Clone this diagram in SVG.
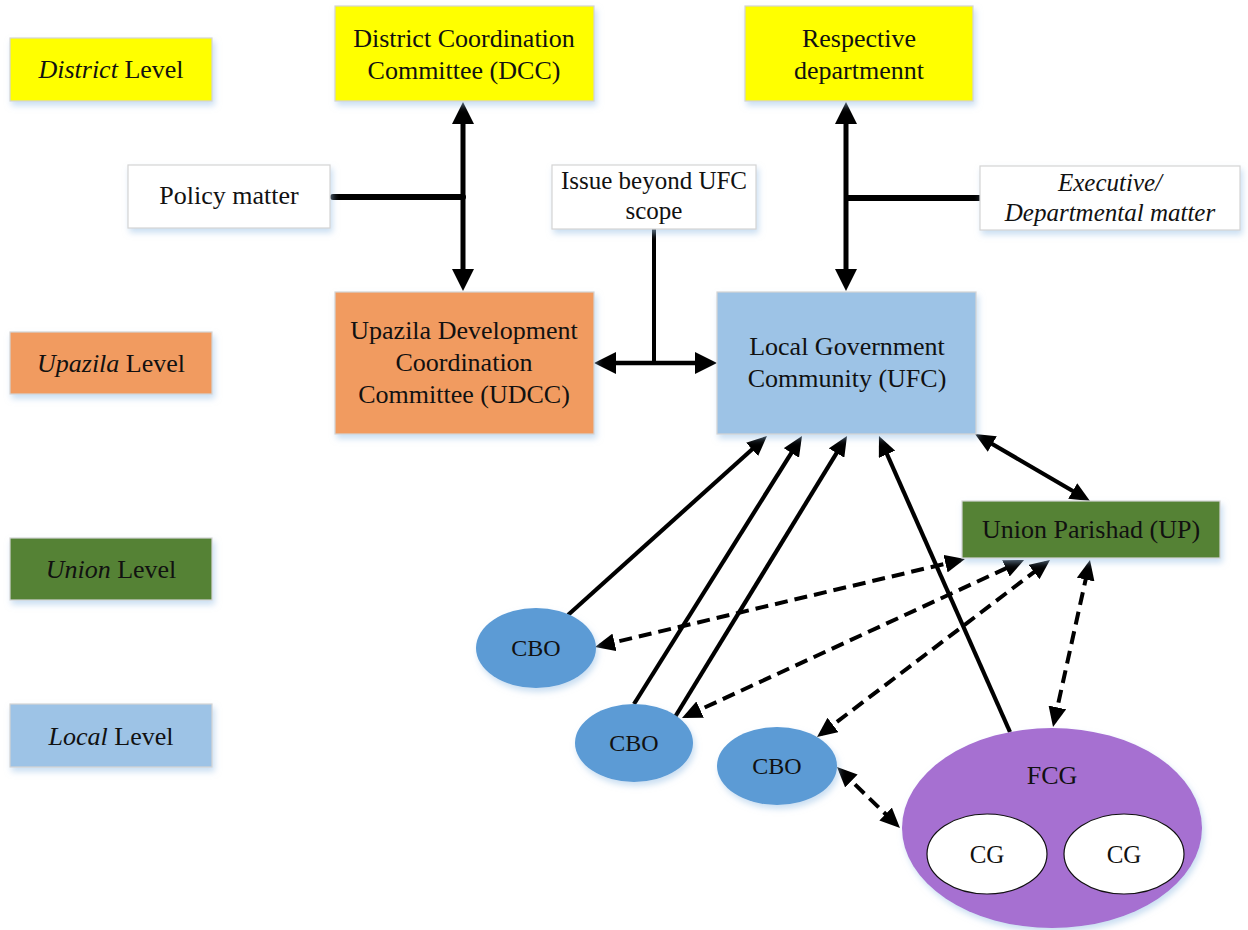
<svg xmlns="http://www.w3.org/2000/svg" width="1248" height="930" viewBox="0 0 1248 930">
<style>
  text { font-family: "Liberation Serif", "Times New Roman", serif; fill: #111; text-anchor: middle; }
  .t26 { font-size: 26px; }
  .t25 { font-size: 25px; }
  .t24 { font-size: 24px; }
  .it { font-style: italic; }
  .box { stroke: #d4d4d4; stroke-width: 1.2; filter: url(#sh); }
  .yellow { fill: #FFFF00; }
  .orange { fill: #F19B61; }
  .green { fill: #548235; }
  .lblue { fill: #9DC3E6; }
  .white { fill: #FFFFFF; }
  .ell { fill: #5B9BD5; filter: url(#sh); }
  .solid { stroke: #000; fill: none; }
  .dash { stroke: #000; fill: none; stroke-width: 4; stroke-dasharray: 13 7; }
</style>
<defs>
  <filter id="sh" x="-10%" y="-10%" width="125%" height="130%">
    <feDropShadow dx="2" dy="4" stdDeviation="3" flood-color="#9DC3E6" flood-opacity="0.55"/>
  </filter>
  <marker id="ab" viewBox="0 0 22 22" markerUnits="userSpaceOnUse" markerWidth="22" markerHeight="22" refX="16" refY="11" orient="auto-start-reverse">
    <path d="M0,0 L22,11 L0,22 Z" fill="#000"/>
  </marker>
  <marker id="as" viewBox="0 0 20 18" markerUnits="userSpaceOnUse" markerWidth="20" markerHeight="18" refX="14" refY="9" orient="auto-start-reverse">
    <path d="M0,0 L20,9 L0,18 Z" fill="#000"/>
  </marker>
  <marker id="ad" viewBox="0 0 20 18" markerUnits="userSpaceOnUse" markerWidth="20" markerHeight="18" refX="15" refY="9" orient="auto-start-reverse">
    <path d="M0,0 L20,9 L0,18 Z" fill="#000"/>
  </marker>
</defs>
<rect width="1248" height="930" fill="#FFFFFF"/>

<g id="connectors">
  <line class="solid" x1="463" y1="108" x2="463" y2="285" stroke-width="5" marker-start="url(#ab)" marker-end="url(#ab)"/>
  <line class="solid" x1="333" y1="197" x2="463" y2="197" stroke-width="6" stroke-linecap="round"/>
  <line class="solid" x1="846" y1="108" x2="846" y2="285" stroke-width="5" marker-start="url(#ab)" marker-end="url(#ab)"/>
  <line class="solid" x1="846" y1="198" x2="980" y2="198" stroke-width="6"/>
  <line class="solid" x1="654" y1="229" x2="654" y2="363" stroke-width="4"/>
  <line class="solid" x1="600" y1="363" x2="711" y2="363" stroke-width="4.5" marker-start="url(#ab)" marker-end="url(#ab)"/>
  <line class="solid" x1="568" y1="615" x2="762.5" y2="440" stroke-width="4.2" marker-end="url(#as)"/>
  <line class="solid" x1="634" y1="704" x2="798.8" y2="441.1" stroke-width="4.2" marker-end="url(#as)"/>
  <line class="solid" x1="675" y1="717" x2="843.9" y2="441.1" stroke-width="4.2" marker-end="url(#as)"/>
  <line class="solid" x1="1010" y1="732" x2="881.4" y2="441.5" stroke-width="4.2" marker-end="url(#as)"/>
  <line class="solid" x1="980.2" y1="437" x2="1084.8" y2="498" stroke-width="4.2" marker-start="url(#as)" marker-end="url(#as)"/>
  <line class="dash" x1="599.9" y1="645.8" x2="960.1" y2="560.2" marker-start="url(#ad)" marker-end="url(#ad)"/>
  <line class="dash" x1="686.5" y1="715.9" x2="1019.5" y2="562.1" marker-start="url(#ad)" marker-end="url(#ad)"/>
  <line class="dash" x1="821" y1="734" x2="1046" y2="563" marker-start="url(#ad)" marker-end="url(#ad)"/>
  <line class="dash" x1="1054.1" y1="722.1" x2="1088.9" y2="564.9" marker-start="url(#ad)" marker-end="url(#ad)"/>
  <line class="dash" x1="840.6" y1="770.5" x2="896.4" y2="824.5" marker-start="url(#ad)" marker-end="url(#ad)"/>
</g>

<g id="district-level">
  <rect class="box yellow" x="10" y="38" width="202" height="63"/>
  <text class="t26" x="111" y="78"><tspan class="it">District</tspan> Level</text>
</g>
<g id="dcc">
  <rect class="box yellow" x="335" y="6" width="259" height="95"/>
  <text class="t26" x="464" y="47">District Coordination</text>
  <text class="t26" x="464" y="79">Committee (DCC)</text>
</g>
<g id="respective-department">
  <rect class="box yellow" x="745" y="6" width="228" height="95"/>
  <text class="t26" x="859" y="47">Respective</text>
  <text class="t26" x="859" y="79">departmennt</text>
</g>
<g id="policy-matter">
  <rect class="box white" x="128" y="165" width="202" height="63"/>
  <text class="t26" x="229" y="204">Policy matter</text>
</g>
<g id="issue-beyond">
  <rect class="box white" x="552" y="165" width="204" height="64"/>
  <text class="t25" x="654" y="189">Issue beyond UFC</text>
  <text class="t25" x="654" y="219">scope</text>
</g>
<g id="executive-matter">
  <rect class="box white" x="980" y="166" width="260" height="64"/>
  <text class="t25 it" x="1110" y="191">Executive/</text>
  <text class="t25 it" x="1110" y="221">Departmental matter</text>
</g>
<g id="upazila-level">
  <rect class="box orange" x="10" y="332" width="202" height="62"/>
  <text class="t26" x="111" y="372"><tspan class="it">Upazila</tspan> Level</text>
</g>
<g id="udcc">
  <rect class="box orange" x="335" y="292" width="259" height="142"/>
  <text class="t26" x="464" y="339">Upazila Development</text>
  <text class="t26" x="464" y="371">Coordination</text>
  <text class="t26" x="464" y="403">Committee (UDCC)</text>
</g>
<g id="ufc">
  <rect class="box lblue" x="717" y="292" width="259" height="142"/>
  <text class="t26" x="847" y="355">Local Government</text>
  <text class="t26" x="847" y="387">Community (UFC)</text>
</g>
<g id="union-level">
  <rect class="box green" x="10" y="538" width="202" height="62"/>
  <text class="t26" x="111" y="578"><tspan class="it">Union</tspan> Level</text>
</g>
<g id="up">
  <rect class="box green" x="962" y="501" width="258" height="57"/>
  <text class="t26" x="1091" y="538">Union Parishad (UP)</text>
</g>
<g id="local-level">
  <rect class="box lblue" x="10" y="704" width="202" height="63"/>
  <text class="t26" x="111" y="745"><tspan class="it">Local</tspan> Level</text>
</g>
<g id="cbo1">
  <ellipse class="ell" cx="536" cy="648" rx="60" ry="40"/>
  <text class="t24" x="536" y="656">CBO</text>
</g>
<g id="cbo2">
  <ellipse class="ell" cx="634" cy="743" rx="59" ry="39"/>
  <text class="t24" x="634" y="751">CBO</text>
</g>
<g id="cbo3">
  <ellipse class="ell" cx="777" cy="766" rx="60" ry="39"/>
  <text class="t24" x="777" y="774">CBO</text>
</g>
<g id="fcg">
  <ellipse cx="1052" cy="828" rx="150" ry="100" fill="#A66FD1" filter="url(#sh)"/>
  <text class="t26" x="1052" y="784">FCG</text>
</g>
<g id="cg1">
  <ellipse cx="987" cy="854" rx="60" ry="40" fill="#FFFFFF" stroke="#111" stroke-width="1.2"/>
  <text class="t25" x="987" y="863">CG</text>
</g>
<g id="cg2">
  <ellipse cx="1124" cy="854" rx="60" ry="40" fill="#FFFFFF" stroke="#111" stroke-width="1.2"/>
  <text class="t25" x="1124" y="863">CG</text>
</g>
</svg>
